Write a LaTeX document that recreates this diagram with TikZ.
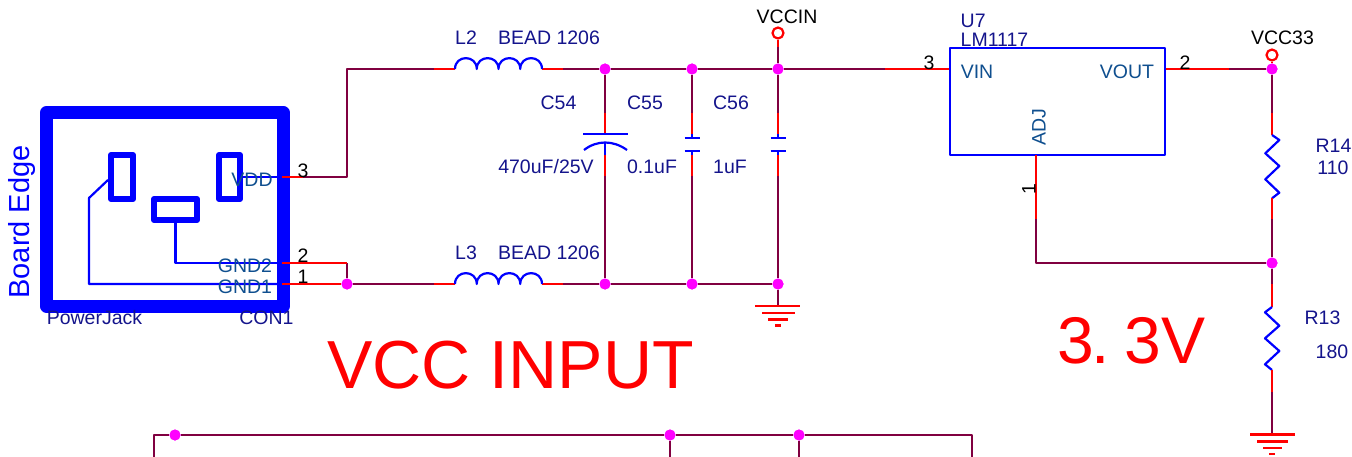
\documentclass[tikz,border=0pt]{standalone}
\usepackage{fontspec}
\setmainfont{Liberation Sans}
\usetikzlibrary{positioning}

\definecolor{wirecol}{HTML}{800040}
\definecolor{labelcol}{HTML}{14148C}
\definecolor{pincol}{HTML}{0F4F8F}
\definecolor{dotcol}{HTML}{FF00FF}

\newcommand{\coilbump}{.. controls +(0,-14.5) and +(0,-14.5) .. ++(21.75,0)}

\begin{document}
\begin{tikzpicture}[x=1pt,y=-1pt,line join=round,
        wire/.style={draw=wirecol,line width=2.2pt},
        stub/.style={draw=red,line width=2.2pt},
        part/.style={draw=blue,line width=2.2pt},
        gnd/.style={draw=red,line width=2.4pt},
        slot/.style={draw=blue,line width=6pt,rectangle,minimum size=0pt,inner sep=0pt},
        junc/.style={circle,fill=dotcol,inner sep=0pt,minimum size=11pt},
        port/.style={circle,draw=red,line width=2.2pt,inner sep=0pt,minimum size=11pt},
        lbl/.style={text=labelcol,font=\fontsize{19.5}{20}\selectfont,inner sep=0pt},
        pinname/.style={text=pincol,font=\fontsize{19.5}{20}\selectfont,inner sep=0pt},
        pinnum/.style={text=black,font=\fontsize{19.5}{20}\selectfont,inner sep=0pt},
        big/.style={text=red,inner sep=0pt}]

  \useasboundingbox (0,0) rectangle (1352,457);
  \fill[white] (0,0) rectangle (1352,457);

  % junctions
  \node[junc] (t1) at (605,69) {};
  \node[junc] (t2) at (692,69) {};
  \node[junc] (t3) at (778,69) {};
  \node[junc] (t4) at (1272,69) {};
  \node[junc] (g0) at (347,284) {};
  \node[junc] (g1) at (605,284) {};
  \node[junc] (g2) at (692,284) {};
  \node[junc] (g3) at (778,284) {};
  \node[junc] (r0) at (1272,263) {};
  \node[junc] (b1) at (175,435) {};
  \node[junc] (b2) at (670,435) {};
  \node[junc] (b3) at (799,435) {};

  % power jack
  \node[draw=blue,line width=13pt,minimum width=236.5pt,minimum height=193.5pt,inner sep=0pt] (con) at (164.75,209.25) {};
  \node[slot,minimum width=22pt,minimum height=44pt] (s1) at (122,177) {};
  \node[slot,minimum width=21pt,minimum height=44pt] (s2) at (229.5,177) {};
  \node[slot,minimum width=43pt,minimum height=21pt] (s3) at (175.5,209.5) {};
  \coordinate (p3) at (282,177);
  \coordinate (p2) at (282,263);
  \coordinate (p1) at (282,284);
  \draw[part] (108,180) -- (89,198) -- (89,284) -- (p1);
  \draw[part] (175.5,223) -- (175.5,263) -- (p2);
  \draw[part] (240,177) -- (p3);

  % input wiring
  \coordinate (l2a) at (455,69);
  \coordinate (l2b) at (542,69);
  \coordinate (l3a) at (455,284);
  \coordinate (l3b) at (542,284);
  \draw[stub] (p3) -- (303,177);
  \draw[wire] (303,177) -- (347,177) -- (347,69) -- (434,69);
  \draw[stub] (434,69) -- (l2a);
  \draw[stub] (l2b) -- (563,69);
  \draw[wire] (563,69) -- (t1) -- (t2) -- (t3) -- (885,69);
  \draw[wire] (347,263) -- (g0);
  \draw[stub] (p2) -- (347,263);
  \draw[stub] (p1) -- (g0);
  \draw[wire] (g0) -- (434,284);
  \draw[stub] (434,284) -- (l3a);
  \draw[stub] (l3b) -- (563,284);
  \draw[wire] (563,284) -- (g1) -- (g2) -- (g3);
  \draw[part] (l2a) \coilbump \coilbump \coilbump \coilbump;
  \draw[part] (l3a) \coilbump \coilbump \coilbump \coilbump;

  % C54
  \coordinate (c1a) at (605,134);
  \coordinate (c1b) at (605,155);
  \draw[wire] (t1) -- (605,113);
  \draw[stub] (605,113) -- (c1a);
  \draw[part] (583,134) -- (628,134);
  \draw[part] (584,150) .. controls (597,140) and (613,140) .. (627,150);
  \draw[part] (605,143) -- (c1b);
  \draw[stub] (c1b) -- (605,176);
  \draw[wire] (605,176) -- (g1);

  % C55, C56
  \foreach \n/\cx in {t2/692,t3/778}{
    \draw[wire] (\n) -- (\cx,113);
    \draw[stub] (\cx,113) -- (\cx,134);
    \draw[part] (\cx,134) -- (\cx,138);
    \draw[part] (\cx-7.5,138) -- (\cx+7.5,138);
    \draw[part] (\cx-7.5,151) -- (\cx+7.5,151);
    \draw[part] (\cx,151) -- (\cx,155);
    \draw[stub] (\cx,155) -- (\cx,176);
  }
  \draw[wire] (692,176) -- (g2);
  \draw[wire] (778,176) -- (g3);

  % VCCIN
  \node[port] (vin) at (778,33) {};
  \draw[stub] (vin) -- (778,47);
  \draw[wire] (778,47) -- (t3);

  % ground 1
  \coordinate (gt1) at (778,306);
  \draw[wire] (g3) -- (gt1);
  \draw[gnd] (755,306) -- (800,306);
  \draw[gnd] (762,313) -- (795,313);
  \draw[gnd] (768,319.5) -- (788,319.5);
  \draw[gnd] (775,325.5) -- (781,325.5);

  % LM1117
  \node[draw=blue,line width=2.2pt,minimum width=215pt,minimum height=107pt,inner sep=0pt] (u7) at (1057.5,101.5) {};
  \draw[stub] (885,69) -- (u7.west |- 0,69);
  \draw[stub] (u7.east |- 0,69) -- (1229,69);
  \draw[wire] (1229,69) -- (t4);
  \draw[stub] (1036,155) -- (1036,219);
  \draw[wire] (1036,219) -- (1036,263) -- (r0);

  % VCC33
  \node[port] (vo) at (1272,55) {};
  \draw[stub] (vo) -- (t4);

  % R14, R13
  \draw[wire] (t4) -- (1272,113);
  \draw[stub] (1272,113) -- (1272,135);
  \draw[part] (1272,135) -- (1279.3,140) -- (1265.3,153.3) -- (1279.3,166) -- (1265.3,179.3) -- (1279.3,192.7) -- (1272,198.3);
  \draw[stub] (1272,198.3) -- (1272,219);
  \draw[wire] (1272,219) -- (r0);
  \draw[wire] (r0) -- (1272,284);
  \draw[stub] (1272,284) -- (1272,307);
  \draw[part] (1272,307) -- (1265,312.3) -- (1279.3,325.7) -- (1265,338.3) -- (1279.3,351) -- (1265,364.3) -- (1272,370);
  \draw[stub] (1272,370) -- (1272,392);
  \draw[wire] (1272,392) -- (1272,434);

  % ground 2
  \draw[gnd] (1250,434.5) -- (1295,434.5);
  \draw[gnd] (1257,441.5) -- (1288,441.5);
  \draw[gnd] (1263,448) -- (1282,448);
  \draw[gnd] (1269,454) -- (1275,454);

  % lower block
  \draw[wire] (154,457) -- (154,435) -- (b1) -- (b2) -- (b3) -- (972,435) -- (972,457);
  \draw[wire] (b2) -- (670,457);
  \draw[wire] (b3) -- (799,457);

  % redraw junctions on top
  \foreach \j in {t1,t2,t3,t4,g0,g1,g2,g3,r0,b1,b2,b3}
    \fill[dotcol] (\j) circle (5.5pt);

  % texts
  \node[text=blue,rotate=90,inner sep=0pt,font=\fontsize{29}{30}\selectfont] (edge) at (22,222) {Board Edge};
  \node[lbl] (jackname) at (94.5,318) {PowerJack};
  \node[lbl] (conname) at (266.5,318) {CON1};
  \node[pinname] (vdd) at (252,179.5) {VDD};
  \node[pinname] (gnd2) at (245,265.5) {GND2};
  \node[pinname] (gnd1) at (245,286.5) {GND1};
  \node[pinnum] (n3) at (303,171) {3};
  \node[pinnum] (n2) at (303,256) {2};
  \node[pinnum] (n1) at (303,277) {1};
  \node[lbl] (l2) at (466,37.5) {L2};
  \node[lbl] (l2v) at (549,37.5) {BEAD 1206};
  \node[lbl] (l3) at (466,252.5) {L3};
  \node[lbl] (l3v) at (549,252.5) {BEAD 1206};
  \node[lbl] (c54) at (558.5,103) {C54};
  \node[lbl] (c55) at (645,103) {C55};
  \node[lbl] (c56) at (731,103) {C56};
  \node[lbl] (c54v) at (546,166.5) {470uF/25V};
  \node[lbl] (c55v) at (652,166.5) {0.1uF};
  \node[lbl] (c56v) at (730,166.5) {1uF};
  \node[pinnum] (vcin) at (787,17) {VCCIN};
  \node[lbl,anchor=west] (u7n) at (960.5,21) {U7};
  \node[lbl,anchor=west] (u7v) at (960.5,40) {LM1117};
  \node[pinnum] (u3) at (929,63) {3};
  \node[pinnum] (u2) at (1185,63) {2};
  \node[pinnum,rotate=90] (u1) at (1029,189) {1};
  \node[pinname] (vinl) at (977,71.5) {VIN};
  \node[pinname] (voutl) at (1127,71.5) {VOUT};
  \node[pinname,rotate=90] (adj) at (1039,127) {ADJ};
  \node[pinnum] (vc33) at (1282.5,38) {VCC33};
  \node[lbl] (r14) at (1333.5,145.5) {R14};
  \node[lbl] (r14v) at (1333,167.5) {110};
  \node[lbl] (r13) at (1322.5,317.5) {R13};
  \node[lbl] (r13v) at (1332,351.5) {180};
  \node[big,font=\fontsize{68}{70}\selectfont] (title) at (510.5,365) {VCC INPUT};
  \node[big,font=\fontsize{66}{68}\selectfont] (volt) at (1131.5,341) {3\kern-3pt.\kern15pt 3V};

\end{tikzpicture}
\end{document}
